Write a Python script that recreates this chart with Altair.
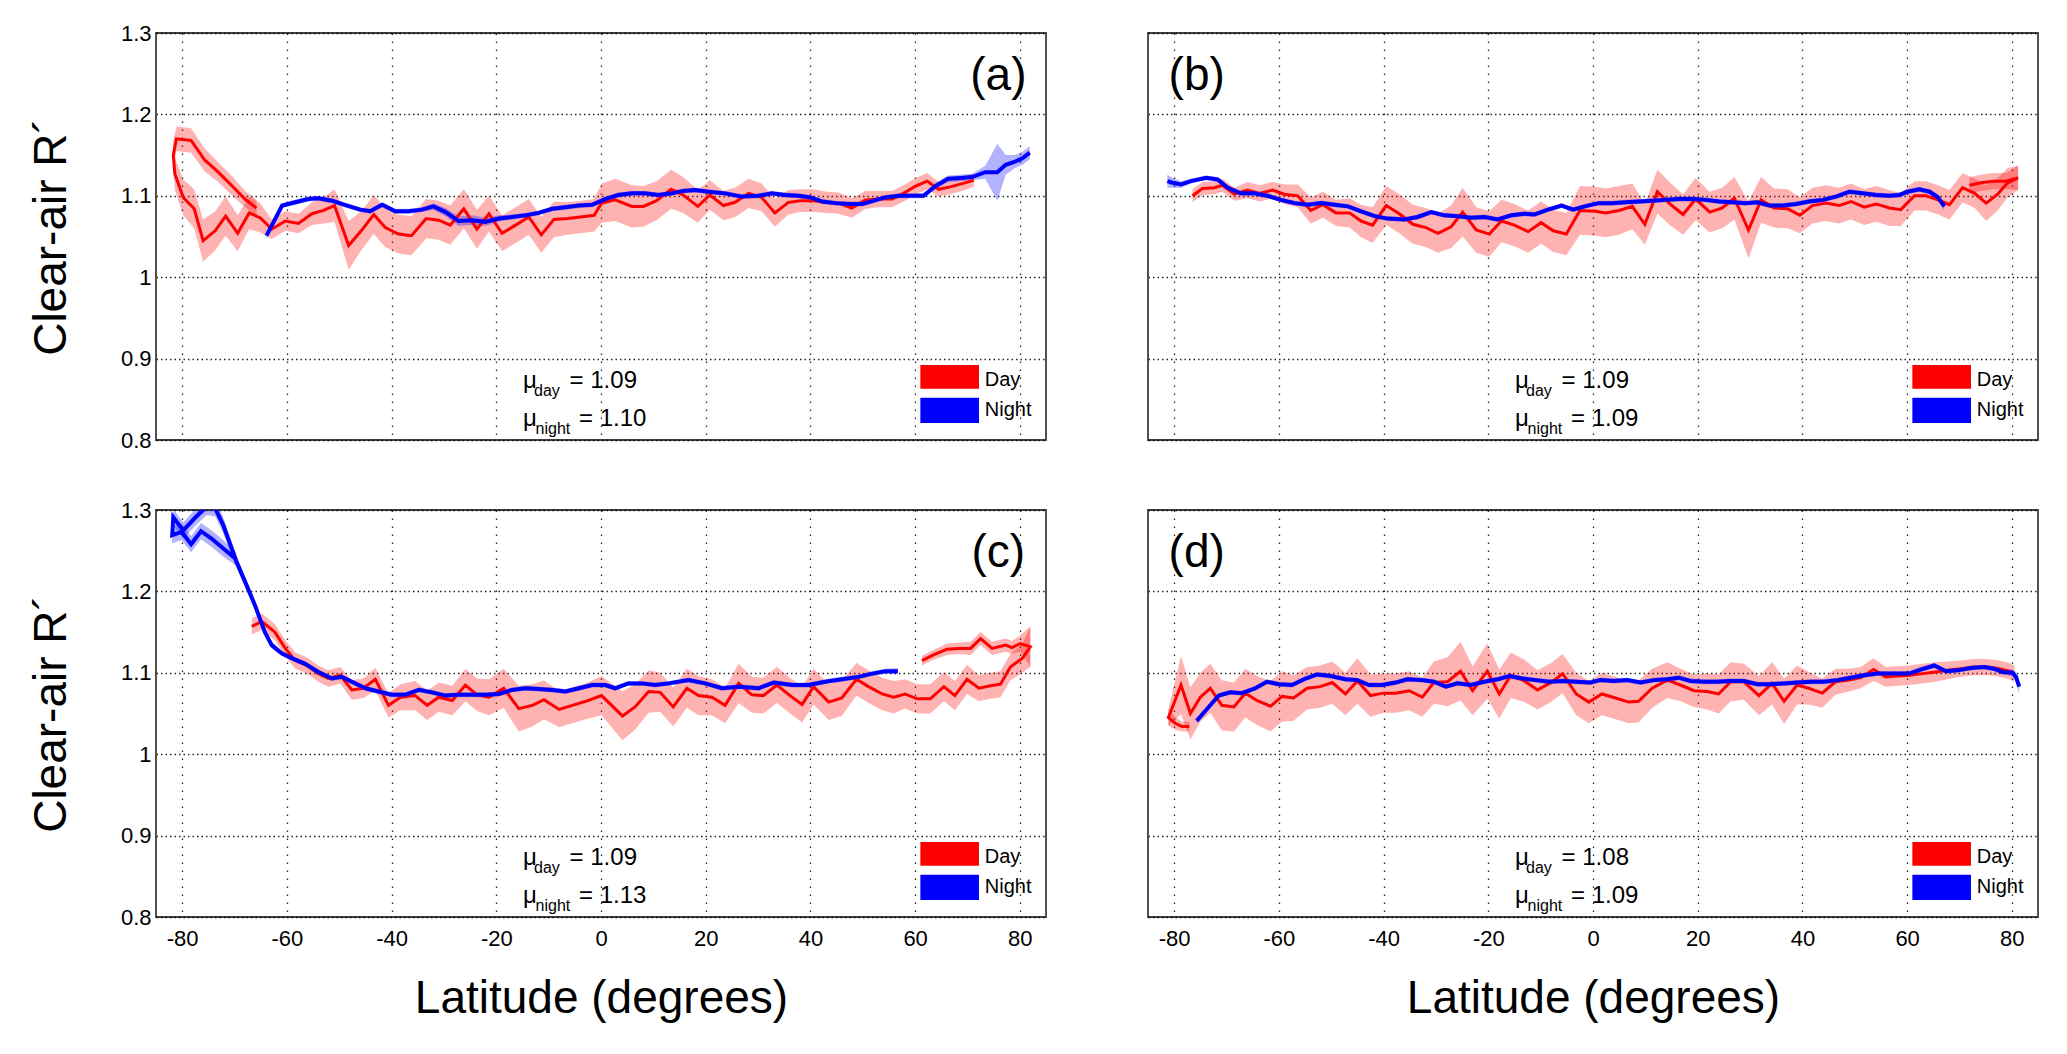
import altair as alt
import pandas as pd

LAT_TICKS = [-80, -60, -40, -20, 0, 20, 40, 60, 80]
R_TICKS = [0.8, 0.9, 1.0, 1.1, 1.2, 1.3]

# ---- panel (a) ----
A_DAY_LAT = [-65.8, -68.0, -70.6, -73.1, -75.7, -78.3, -81.1, -81.7, -81.4, -79.8,
             -77.7, -76.0, -73.7, -71.7, -69.4, -67.2, -65.1, -62.9, -60.3, -57.8,
             -55.2, -53.0, -50.9, -48.2, -45.8, -43.4, -41.2, -38.7, -36.2, -33.4,
             -31.0, -28.8, -26.2, -23.7, -21.4, -18.9, -16.3, -13.8, -11.4, -9.0,
             -6.4, -3.9, -1.3, 0.1, 2.7, 5.9, 8.1, 10.6, 13.4, 15.7,
             18.5, 20.8, 23.4, 25.6, 28.2, 30.7, 33.2, 35.8, 38.1, 40.6,
             43.2, 45.4, 47.9, 50.5, 53.0, 55.6, 57.8, 60.1, 62.3, 64.5,
             66.7, 69.0, 71.2]
A_DAY_R = [1.085, 1.096, 1.113, 1.129, 1.144, 1.168, 1.170, 1.150, 1.127, 1.098,
           1.084, 1.045, 1.057, 1.075, 1.054, 1.079, 1.073, 1.059, 1.069, 1.066,
           1.078, 1.082, 1.088, 1.039, 1.057, 1.077, 1.061, 1.053, 1.051, 1.072,
           1.070, 1.064, 1.084, 1.059, 1.078, 1.054, 1.064, 1.074, 1.052, 1.071,
           1.072, 1.074, 1.076, 1.091, 1.095, 1.087, 1.087, 1.094, 1.108, 1.101,
           1.087, 1.101, 1.088, 1.092, 1.103, 1.098, 1.079, 1.092, 1.094, 1.094,
           1.092, 1.091, 1.085, 1.095, 1.096, 1.096, 1.103, 1.112, 1.118, 1.108,
           1.111, 1.115, 1.119]
A_DAY_ERR = [0.010, 0.010, 0.012, 0.012, 0.014, 0.015, 0.015, 0.018, 0.020, 0.022,
             0.024, 0.026, 0.024, 0.024, 0.022, 0.020, 0.018, 0.012, 0.012, 0.012,
             0.014, 0.016, 0.020, 0.030, 0.024, 0.024, 0.024, 0.024, 0.024, 0.024,
             0.024, 0.024, 0.024, 0.024, 0.022, 0.022, 0.022, 0.022, 0.022, 0.022,
             0.020, 0.020, 0.020, 0.024, 0.026, 0.026, 0.025, 0.024, 0.024, 0.022,
             0.020, 0.018, 0.018, 0.018, 0.018, 0.017, 0.017, 0.015, 0.014, 0.014,
             0.013, 0.013, 0.012, 0.011, 0.010, 0.010, 0.010, 0.010, 0.010, 0.009,
             0.009, 0.009, 0.008]
A_NIGHT_LAT = [-63.9, -60.9, -58.4, -55.9, -54.0, -51.4, -48.5, -46.0, -44.1, -41.8,
               -39.3, -36.7, -34.2, -32.0, -29.7, -27.2, -24.6, -22.1, -19.5, -17.0,
               -14.4, -11.9, -9.3, -6.8, -4.2, -1.7, 0.8, 3.3, 5.9, 8.4,
               10.9, 13.5, 15.7, 18.0, 20.5, 23.7, 26.9, 30.1, 32.6, 35.2,
               37.7, 40.0, 42.2, 44.8, 47.3, 49.9, 52.1, 54.3, 56.9, 59.4,
               61.6, 63.9, 66.3, 68.7, 70.9, 73.4, 75.7, 77.3, 79.1, 80.5,
               81.9]
A_NIGHT_R = [1.051, 1.088, 1.092, 1.096, 1.097, 1.094, 1.088, 1.083, 1.081, 1.089,
             1.081, 1.081, 1.083, 1.087, 1.080, 1.069, 1.070, 1.068, 1.072, 1.074,
             1.076, 1.079, 1.084, 1.086, 1.088, 1.089, 1.096, 1.101, 1.103, 1.103,
             1.101, 1.103, 1.106, 1.107, 1.105, 1.103, 1.099, 1.100, 1.103, 1.101,
             1.100, 1.098, 1.093, 1.091, 1.090, 1.090, 1.094, 1.098, 1.100, 1.100,
             1.100, 1.112, 1.121, 1.122, 1.123, 1.129, 1.129, 1.138, 1.142, 1.146,
             1.153]
A_NIGHT_ERR = [0.004, 0.003, 0.003, 0.003, 0.003, 0.003, 0.003, 0.003, 0.003, 0.003,
               0.003, 0.003, 0.003, 0.004, 0.005, 0.006, 0.006, 0.005, 0.004, 0.003,
               0.003, 0.003, 0.003, 0.003, 0.003, 0.003, 0.003, 0.003, 0.003, 0.003,
               0.003, 0.003, 0.003, 0.003, 0.003, 0.003, 0.003, 0.003, 0.003, 0.003,
               0.003, 0.003, 0.003, 0.003, 0.003, 0.003, 0.003, 0.003, 0.003, 0.003,
               0.003, 0.004, 0.004, 0.004, 0.004, 0.008, 0.035, 0.012, 0.008, 0.008,
               0.008]

# ---- panel (b) ----
B_DAY_LAT = [-76.5, -74.6, -72.3, -70.8, -68.5, -66.0, -63.7, -61.2, -59.0, -56.4,
             -53.9, -51.6, -49.1, -46.5, -44.3, -42.1, -39.5, -37.0, -34.4, -31.9,
             -29.6, -27.1, -24.9, -22.3, -19.8, -17.5, -15.0, -12.4, -9.9, -7.6,
             -5.1, -2.5, 0.5, 2.4, 5.0, 7.5, 9.9, 12.3, 14.9, 17.2,
             19.6, 22.3, 24.7, 27.0, 29.7, 32.1, 34.6, 37.2, 39.5, 41.9,
             44.5, 47.0, 49.3, 51.8, 54.1, 56.6, 58.8, 61.4, 63.6, 65.9,
             68.1, 70.6, 72.9, 75.1, 77.3, 79.2, 81.2, 78.9, 76.4, 74.1,
             71.9]
B_DAY_R = [1.100, 1.109, 1.110, 1.113, 1.102, 1.107, 1.103, 1.107, 1.102, 1.100,
           1.082, 1.089, 1.079, 1.079, 1.069, 1.064, 1.088, 1.078, 1.065, 1.061,
           1.054, 1.062, 1.080, 1.058, 1.053, 1.069, 1.064, 1.056, 1.067, 1.057,
           1.053, 1.082, 1.081, 1.079, 1.082, 1.087, 1.065, 1.105, 1.089, 1.077,
           1.096, 1.080, 1.085, 1.097, 1.058, 1.095, 1.085, 1.084, 1.076, 1.088,
           1.091, 1.088, 1.093, 1.086, 1.090, 1.085, 1.083, 1.100, 1.100, 1.095,
           1.089, 1.110, 1.103, 1.091, 1.102, 1.116, 1.122, 1.118, 1.118, 1.116,
           1.113]
B_DAY_ERR = [0.008, 0.008, 0.008, 0.008, 0.008, 0.010, 0.010, 0.010, 0.012, 0.014,
             0.016, 0.016, 0.016, 0.018, 0.020, 0.022, 0.024, 0.024, 0.024, 0.024,
             0.024, 0.026, 0.030, 0.028, 0.028, 0.026, 0.026, 0.026, 0.026, 0.026,
             0.026, 0.030, 0.030, 0.030, 0.030, 0.028, 0.025, 0.027, 0.026, 0.025,
             0.026, 0.025, 0.025, 0.026, 0.035, 0.028, 0.024, 0.024, 0.022, 0.022,
             0.022, 0.022, 0.022, 0.022, 0.022, 0.022, 0.020, 0.018, 0.018, 0.018,
             0.018, 0.018, 0.018, 0.022, 0.020, 0.018, 0.015, 0.010, 0.010, 0.010,
             0.010]
B_NIGHT_LAT = [-81.3, -80.3, -78.7, -76.8, -73.9, -71.7, -69.8, -67.3, -64.7, -62.2,
               -59.6, -57.0, -54.5, -51.9, -49.4, -46.8, -44.3, -41.7, -39.2, -36.0,
               -33.5, -30.9, -28.4, -25.8, -23.3, -20.7, -18.2, -15.6, -13.1, -11.2,
               -8.6, -6.0, -3.8, -1.6, 1.1, 3.7, 6.2, 8.8, 11.3, 13.9,
               16.4, 19.0, 21.5, 24.1, 26.6, 29.2, 31.4, 33.7, 36.2, 38.8,
               41.3, 43.9, 46.4, 49.0, 51.5, 54.1, 56.6, 58.5, 60.1, 62.3,
               64.3, 65.9, 67.1]
B_NIGHT_R = [1.118, 1.116, 1.114, 1.118, 1.122, 1.120, 1.110, 1.103, 1.103, 1.100,
             1.095, 1.091, 1.089, 1.091, 1.089, 1.087, 1.081, 1.075, 1.072, 1.071,
             1.074, 1.080, 1.076, 1.075, 1.073, 1.074, 1.071, 1.076, 1.078, 1.077,
             1.083, 1.088, 1.083, 1.087, 1.091, 1.091, 1.092, 1.093, 1.094, 1.095,
             1.096, 1.096, 1.095, 1.093, 1.092, 1.091, 1.092, 1.088, 1.088, 1.090,
             1.093, 1.095, 1.099, 1.105, 1.103, 1.101, 1.100, 1.101, 1.105, 1.108,
             1.105, 1.098, 1.087]
B_NIGHT_ERR = [0.008, 0.006, 0.004, 0.003, 0.003, 0.003, 0.003, 0.003, 0.003, 0.003,
               0.003, 0.003, 0.003, 0.003, 0.003, 0.003, 0.003, 0.003, 0.003, 0.003,
               0.003, 0.003, 0.003, 0.003, 0.003, 0.003, 0.003, 0.003, 0.003, 0.003,
               0.003, 0.003, 0.003, 0.003, 0.003, 0.003, 0.003, 0.003, 0.003, 0.003,
               0.003, 0.003, 0.003, 0.003, 0.003, 0.003, 0.003, 0.003, 0.003, 0.003,
               0.003, 0.003, 0.003, 0.003, 0.003, 0.003, 0.003, 0.003, 0.003, 0.003,
               0.003, 0.004, 0.005]

# ---- panel (c) ----
C_DAY_LAT = [-66.7, -64.8, -62.3, -60.3, -58.4, -56.2, -54.0, -52.1, -49.8, -47.6,
             -45.4, -43.1, -40.6, -38.3, -35.5, -33.2, -31.0, -28.4, -25.9, -23.7,
             -21.4, -18.6, -15.7, -13.1, -10.9, -8.0, -5.5, -2.9, 0.1, 4.1,
             6.5, 9.1, 11.3, 13.8, 16.4, 18.6, 21.2, 23.7, 26.3, 28.8,
             31.0, 33.6, 36.1, 38.4, 40.6, 43.5, 46.0, 48.8, 51.1, 53.7,
             55.9, 58.1, 60.4, 62.9, 65.5, 67.6, 69.9, 72.2, 74.4, 76.3,
             78.2, 80.5, 82.0, 80.1, 78.5, 77.3, 74.7, 72.5, 70.6, 68.3,
             66.1, 63.5, 61.3]
C_DAY_R = [1.157, 1.163, 1.150, 1.130, 1.115, 1.109, 1.099, 1.093, 1.097, 1.079,
           1.081, 1.092, 1.060, 1.070, 1.072, 1.060, 1.070, 1.066, 1.085, 1.073,
           1.070, 1.081, 1.056, 1.060, 1.067, 1.055, 1.060, 1.065, 1.072, 1.047,
           1.058, 1.077, 1.076, 1.058, 1.081, 1.072, 1.070, 1.060, 1.087, 1.073,
           1.072, 1.085, 1.072, 1.061, 1.083, 1.064, 1.069, 1.092, 1.083, 1.074,
           1.070, 1.074, 1.068, 1.068, 1.083, 1.072, 1.092, 1.081, 1.084, 1.086,
           1.107, 1.118, 1.132, 1.136, 1.131, 1.134, 1.130, 1.142, 1.130, 1.130,
           1.129, 1.122, 1.115]
C_DAY_ERR = [0.010, 0.010, 0.010, 0.010, 0.010, 0.010, 0.010, 0.010, 0.010, 0.012,
             0.012, 0.014, 0.015, 0.016, 0.018, 0.018, 0.018, 0.018, 0.020, 0.020,
             0.022, 0.024, 0.028, 0.026, 0.024, 0.022, 0.022, 0.022, 0.024, 0.030,
             0.028, 0.026, 0.024, 0.024, 0.024, 0.024, 0.022, 0.022, 0.024, 0.022,
             0.022, 0.022, 0.022, 0.022, 0.022, 0.022, 0.022, 0.020, 0.020, 0.020,
             0.020, 0.018, 0.018, 0.018, 0.018, 0.018, 0.018, 0.016, 0.016, 0.016,
             0.016, 0.018, 0.025, 0.010, 0.008, 0.008, 0.008, 0.008, 0.008, 0.007,
             0.007, 0.006, 0.006]
C_NIGHT_LAT = [-69.8, -72.2, -74.4, -76.4, -78.3, -80.1, -81.9, -81.7, -79.8, -77.3,
               -75.3, -73.7, -72.2, -69.6, -68.0, -66.1, -64.2, -62.9, -61.0, -59.1,
               -56.5, -54.0, -51.4, -49.5, -47.6, -45.0, -42.5, -40.0, -37.4, -34.8,
               -32.3, -29.7, -27.2, -24.6, -22.1, -19.5, -17.0, -14.4, -11.9, -9.3,
               -6.8, -4.2, -1.7, 0.8, 2.7, 5.2, 7.8, 10.3, 12.9, 16.7,
               19.9, 23.1, 26.3, 30.1, 33.0, 36.5, 39.7, 42.8, 46.0, 49.2,
               51.8, 54.3, 56.7]
C_NIGHT_R = [1.240, 1.253, 1.265, 1.274, 1.258, 1.273, 1.269, 1.291, 1.275, 1.292,
             1.304, 1.302, 1.282, 1.236, 1.212, 1.183, 1.150, 1.134, 1.124, 1.118,
             1.111, 1.101, 1.093, 1.095, 1.089, 1.081, 1.077, 1.073, 1.073, 1.079,
             1.076, 1.072, 1.073, 1.073, 1.073, 1.074, 1.079, 1.081, 1.080, 1.079,
             1.077, 1.081, 1.085, 1.085, 1.081, 1.087, 1.087, 1.085, 1.087, 1.091,
             1.087, 1.081, 1.083, 1.081, 1.088, 1.085, 1.085, 1.089, 1.092, 1.095,
             1.099, 1.102, 1.102]
C_NIGHT_ERR = [0.008, 0.010, 0.010, 0.010, 0.010, 0.010, 0.010, 0.010, 0.010, 0.010,
               0.010, 0.010, 0.010, 0.008, 0.006, 0.005, 0.004, 0.004, 0.003, 0.003,
               0.003, 0.003, 0.003, 0.003, 0.003, 0.003, 0.003, 0.003, 0.003, 0.003,
               0.003, 0.003, 0.003, 0.003, 0.003, 0.003, 0.003, 0.003, 0.003, 0.003,
               0.003, 0.003, 0.003, 0.003, 0.003, 0.003, 0.003, 0.003, 0.003, 0.003,
               0.003, 0.003, 0.003, 0.003, 0.003, 0.003, 0.003, 0.003, 0.003, 0.003,
               0.003, 0.003, 0.004]

# ---- panel (d) ----
D_DAY_LAT = [-77.1, -78.5, -79.8, -81.1, -78.7, -76.9, -75.0, -73.1, -70.9, -68.6,
             -66.4, -64.2, -61.6, -59.4, -57.2, -54.6, -52.1, -49.8, -47.3, -45.0,
             -42.5, -40.0, -37.7, -35.1, -32.6, -30.4, -27.8, -25.3, -23.0, -20.2,
             -17.9, -15.7, -13.1, -10.6, -8.0, -5.8, -3.2, -0.8, 1.7, 4.3,
             6.8, 8.7, 11.3, 14.2, 16.7, 19.3, 21.8, 24.0, 26.3, 28.8,
             31.7, 34.2, 36.5, 39.0, 41.2, 43.8, 46.3, 48.9, 51.1, 53.6,
             55.9, 58.1, 60.4, 62.9, 65.5, 67.7, 70.3, 72.8, 75.4, 77.6,
             79.5, 80.5]
D_DAY_R = [1.034, 1.034, 1.038, 1.045, 1.085, 1.050, 1.070, 1.081, 1.060, 1.058,
           1.075, 1.066, 1.059, 1.071, 1.069, 1.081, 1.083, 1.088, 1.074, 1.090,
           1.072, 1.075, 1.075, 1.078, 1.070, 1.088, 1.089, 1.102, 1.078, 1.102,
           1.074, 1.097, 1.090, 1.079, 1.088, 1.099, 1.074, 1.064, 1.074, 1.069,
           1.064, 1.065, 1.081, 1.091, 1.085, 1.078, 1.077, 1.074, 1.089, 1.089,
           1.072, 1.087, 1.065, 1.085, 1.081, 1.075, 1.089, 1.091, 1.094, 1.104,
           1.095, 1.096, 1.097, 1.099, 1.101, 1.103, 1.105, 1.107, 1.107, 1.105,
           1.102, 1.099]
D_DAY_ERR = [0.006, 0.006, 0.008, 0.010, 0.036, 0.032, 0.030, 0.030, 0.031, 0.030,
             0.030, 0.030, 0.031, 0.031, 0.028, 0.026, 0.026, 0.026, 0.026, 0.028,
             0.026, 0.024, 0.024, 0.024, 0.024, 0.026, 0.030, 0.036, 0.030, 0.034,
             0.030, 0.028, 0.026, 0.024, 0.024, 0.024, 0.026, 0.026, 0.026, 0.026,
             0.026, 0.026, 0.024, 0.022, 0.020, 0.020, 0.022, 0.024, 0.024, 0.022,
             0.024, 0.026, 0.028, 0.024, 0.020, 0.018, 0.016, 0.014, 0.013, 0.014,
             0.012, 0.012, 0.012, 0.012, 0.012, 0.011, 0.010, 0.010, 0.010, 0.010,
             0.010, 0.010]
D_NIGHT_LAT = [-75.7, -73.4, -71.5, -69.3, -67.1, -64.5, -62.3, -60.0, -57.5, -54.9,
               -52.7, -50.1, -47.3, -45.0, -42.8, -40.3, -37.7, -35.5, -32.6, -30.4,
               -28.1, -25.9, -23.3, -20.8, -18.2, -16.0, -13.5, -10.9, -8.4, -5.8,
               -3.3, -0.5, 1.4, 4.0, 6.5, 9.1, 11.6, 14.2, 16.4, 18.6,
               21.2, 23.7, 26.3, 28.8, 31.4, 33.9, 36.5, 39.0, 41.6, 44.1,
               46.7, 49.2, 51.8, 54.3, 56.9, 60.4, 62.6, 65.2, 67.4, 69.6,
               72.2, 74.7, 76.6, 78.2, 80.1, 80.8, 81.4]
D_NIGHT_R = [1.041, 1.058, 1.072, 1.076, 1.075, 1.081, 1.089, 1.086, 1.085, 1.093,
             1.098, 1.096, 1.092, 1.091, 1.085, 1.085, 1.088, 1.092, 1.091, 1.089,
             1.083, 1.087, 1.085, 1.089, 1.092, 1.096, 1.093, 1.091, 1.089, 1.090,
             1.089, 1.088, 1.091, 1.090, 1.091, 1.088, 1.091, 1.092, 1.094, 1.090,
             1.089, 1.089, 1.090, 1.090, 1.086, 1.086, 1.087, 1.088, 1.089, 1.089,
             1.091, 1.094, 1.097, 1.099, 1.099, 1.099, 1.104, 1.109, 1.102, 1.103,
             1.106, 1.107, 1.105, 1.101, 1.100, 1.095, 1.083]
D_NIGHT_ERR = [0.003, 0.003, 0.003, 0.003, 0.003, 0.003, 0.003, 0.003, 0.003, 0.003,
               0.003, 0.003, 0.003, 0.003, 0.003, 0.003, 0.003, 0.003, 0.003, 0.003,
               0.003, 0.003, 0.003, 0.003, 0.003, 0.003, 0.003, 0.003, 0.003, 0.003,
               0.003, 0.003, 0.003, 0.003, 0.003, 0.003, 0.003, 0.003, 0.003, 0.003,
               0.003, 0.003, 0.003, 0.003, 0.003, 0.003, 0.003, 0.003, 0.003, 0.003,
               0.003, 0.003, 0.003, 0.003, 0.003, 0.003, 0.003, 0.003, 0.003, 0.003,
               0.003, 0.003, 0.003, 0.003, 0.004, 0.006, 0.008]

PANEL_TAGS = ["(a)", "(b)", "(c)", "(d)"]
MU_DAY = ["1.09", "1.09", "1.09", "1.08"]
MU_NIGHT = ["1.10", "1.09", "1.13", "1.09"]
LEGEND_LABELS = ["Day", "Night"]

DAY = [(A_DAY_LAT, A_DAY_R, A_DAY_ERR), (B_DAY_LAT, B_DAY_R, B_DAY_ERR),
       (C_DAY_LAT, C_DAY_R, C_DAY_ERR), (D_DAY_LAT, D_DAY_R, D_DAY_ERR)]
NIGHT = [(A_NIGHT_LAT, A_NIGHT_R, A_NIGHT_ERR), (B_NIGHT_LAT, B_NIGHT_R, B_NIGHT_ERR),
         (C_NIGHT_LAT, C_NIGHT_R, C_NIGHT_ERR), (D_NIGHT_LAT, D_NIGHT_R, D_NIGHT_ERR)]

RED = "#ff0000"
BLUE = "#0000ff"
FONT = "Liberation Sans"
W, H = 890, 407


def line_frame(lat, r, err):
    return pd.DataFrame({"lat": lat, "r": r, "idx": list(range(len(lat)))})


def band_frame(lat, r, err):
    # split the path where latitude turns back, so each band piece is monotonic
    rows, seg, step = [], 0, 0
    for i in range(len(lat)):
        if i:
            s = 1 if lat[i] > lat[i - 1] else -1
            if step and s != step:
                seg += 1
                rows.append((lat[i - 1], r[i - 1] - err[i - 1], r[i - 1] + err[i - 1], seg))
            step = s
        rows.append((lat[i], r[i] - err[i], r[i] + err[i], seg))
    return pd.DataFrame(rows, columns=["lat", "lo", "hi", "seg"])


def x_enc(field, show):
    return alt.X(f"{field}:Q",
                 scale=alt.Scale(domain=[-85, 85], nice=False, zero=False),
                 axis=alt.Axis(values=LAT_TICKS, labels=show, labelExpr="'' + datum.value",
                               title="Latitude (degrees)" if show else None))


def y_enc(field, show):
    return alt.Y(f"{field}:Q",
                 scale=alt.Scale(domain=[0.8, 1.3], nice=False, zero=False),
                 axis=alt.Axis(values=R_TICKS, labels=show, labelExpr="'' + datum.value",
                               title="Clear-air R\u00b4" if show else None))


def panel(i, show_x, show_y):
    day, night = DAY[i], NIGHT[i]

    def band(series, color, opacity):
        return alt.Chart(band_frame(*series)).mark_area(
            color=color, opacity=opacity, clip=True, strokeWidth=0
        ).encode(x=x_enc("lat", show_x), y=y_enc("lo", show_y), y2="hi:Q", detail="seg:N")

    def line(series, color, width):
        return alt.Chart(line_frame(*series)).mark_line(
            color=color, strokeWidth=width, clip=True
        ).encode(x=x_enc("lat", show_x), y=y_enc("r", show_y), order="idx:Q")

    # legend patches and labels, placed in data units at lower right
    legend_df = pd.DataFrame({
        "lat0": [61.0, 61.0], "lat1": [72.2, 72.2],
        "r0": [0.863, 0.821], "r1": [0.892, 0.852],
        "tlat": [73.3, 73.3], "tr": [0.866, 0.8295],
        "label": LEGEND_LABELS, "fill": [RED, BLUE],
    })
    legend_box = alt.Chart(legend_df).mark_rect().encode(
        x=x_enc("lat0", show_x), x2="lat1:Q", y=y_enc("r0", show_y), y2="r1:Q",
        color=alt.Color("fill:N", scale=None))
    legend_txt = alt.Chart(legend_df).mark_text(
        font=FONT, fontSize=20, align="left", baseline="alphabetic", color="black"
    ).encode(x=x_enc("tlat", show_x), y=y_enc("tr", show_y), text="label:N")

    ann_df = pd.DataFrame({
        "lat": [-14.9, -12.8, -6.0, -14.9, -12.5, -4.2],
        "r": [0.864, 0.854, 0.864, 0.817, 0.807, 0.817],
        "text": ["\u03bc", "day", "= " + MU_DAY[i], "\u03bc", "night", "= " + MU_NIGHT[i]],
        "size": [24, 16, 24, 24, 16, 24],
    })
    ann = alt.Chart(ann_df).mark_text(
        font=FONT, align="left", baseline="alphabetic", color="black"
    ).encode(x=x_enc("lat", show_x), y=y_enc("r", show_y), text="text:N",
             size=alt.Size("size:Q", scale=None))

    tag_df = pd.DataFrame({"lat": [75.9 if i % 2 == 0 else -75.7], "r": [1.23],
                           "text": [PANEL_TAGS[i]]})
    tag = alt.Chart(tag_df).mark_text(
        font=FONT, fontSize=46, align="center", baseline="alphabetic", color="black"
    ).encode(x=x_enc("lat", show_x), y=y_enc("r", show_y), text="text:N")

    return alt.layer(
        band(day, RED, 0.3), band(night, BLUE, 0.3),
        line(day, RED, 3), line(night, BLUE, 4),
        legend_box, legend_txt, ann, tag,
    ).properties(width=W, height=H)


chart = alt.concat(
    panel(0, False, True), panel(1, False, False),
    panel(2, True, True), panel(3, True, False),
    columns=2, spacing={"row": 70, "column": 102}, bounds="flush",
).properties(
    padding={"left": 19, "top": 13, "right": 5, "bottom": 5}
).configure_view(
    stroke="#404040", strokeWidth=1.8
).configure_axis(
    domain=False, ticks=False,
    labelFont=FONT, labelFontSize=22, labelColor="black",
    titleFont=FONT, titleFontWeight="normal", titleColor="black",
    gridColor="black", gridOpacity=0.85, gridWidth=1.3,
).configure_axisX(
    gridDash=[1.5, 6.5], labelPadding=11, titleFontSize=46, titlePadding=27
).configure_axisY(
    gridDash=[1.5, 3], labelPadding=5, titleFontSize=46, titlePadding=45
)

chart.save("out.html", embed_options={"renderer": "svg", "actions": False})
